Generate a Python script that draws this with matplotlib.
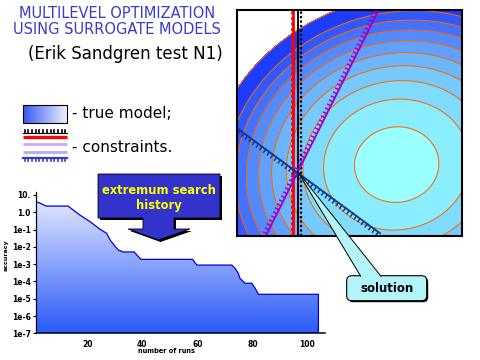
import numpy as np
import matplotlib
matplotlib.use('Agg')
import matplotlib.pyplot as plt
from matplotlib.patches import Polygon, Rectangle, FancyBboxPatch
from matplotlib.colors import LinearSegmentedColormap
from matplotlib.ticker import NullLocator
import matplotlib.patheffects as pe

# ---------------- data: extremum search history ----------------
runs = [1.2, 2.5, 5, 13, 17.3, 21, 24.6, 27, 28.3, 30, 31.3, 33.1, 37, 39.5,
        58.3, 59.8, 72.5, 73.7, 74.9, 75.5, 77.3, 79.8, 81, 82.2, 104]
accuracy = [4.07, 3.55, 2.29, 2.29, 0.69, 0.288, 0.105, 0.0617, 0.0251, 0.0112,
            0.0066, 0.0051, 0.0051, 0.0019, 0.0019, 0.00089, 0.00089, 0.00058,
            0.000295, 0.000151, 7.9e-5, 7.9e-5, 4.1e-5, 1.82e-5, 1.82e-5]
y_ticks = [1e1, 1e0, 1e-1, 1e-2, 1e-3, 1e-4, 1e-5, 1e-6, 1e-7]
y_tick_labels = ['10.', '1.0', '1e-1', '1e-2', '1e-3', '1e-4', '1e-5', '1e-6', '1e-7']
x_ticks = [20, 40, 60, 80, 100]

# ---------------- true model (contour panel) ----------------
model_center = (0.711, 0.315)
model_xscale = 1.12
model_cross = 0.20
model_levels = [0.0, 0.028, 0.084, 0.138, 0.191, 0.245, 0.299, 0.353, 0.406, 0.460, 0.560]
band_colors = ['#99ffff', '#8aeeff', '#80dcff', '#76caff', '#6cb6ff',
               '#60a0ff', '#528aff', '#4272ff', '#3058ff', '#1c3cff']
# constraints (panel coordinates 0..1)
red_x = 0.2516
black_x = 0.2738
purple_line = ([0.130, 0.627], [0.0, 0.992])
blue_line = ([-0.008, 0.637], [0.483, 0.0106])

W, H = 480, 360
fig = plt.figure(figsize=(4.8, 3.6), dpi=100)


def fa(x0, y0, x1, y1):
    return [x0 / W, 1 - y1 / H, (x1 - x0) / W, (y1 - y0) / H]


# ---------------- accuracy chart ----------------
ax = fig.add_axes(fa(35.6, 191.7, 325, 333.4))
ax.set_yscale('log')
ax.set_xlim(1.2, 106.4)
ax.set_ylim(1e-7, 10 ** 1.19)
ax.set_autoscale_on(False)
xs = np.array(runs)
ys = np.array(accuracy)
ybot = 1e-7
poly_xy = np.column_stack([np.r_[xs[0], xs, xs[-1]], np.r_[ybot, ys, ybot]])
grad = np.linspace(0, 1, 256).reshape(-1, 1)
cmap_acc = LinearSegmentedColormap.from_list('acc', ['#2a5af8', '#eef1fd'])
im = ax.imshow(grad, extent=[0, 1, 0, 1], transform=ax.transAxes, origin='lower',
               cmap=cmap_acc, aspect='auto', zorder=2, interpolation='bilinear')
clip = Polygon(poly_xy, closed=True, transform=ax.transData)
im.set_clip_path(clip)
ax.add_patch(Polygon(poly_xy, closed=True, facecolor='none', edgecolor='#0000e6',
                     lw=0.9, zorder=3))
ax.set_xlim(1.2, 106.4)
ax.set_ylim(1e-7, 10 ** 1.19)
ax.set_yticks(y_ticks)
ax.set_yticklabels(y_tick_labels)
ax.yaxis.set_minor_locator(NullLocator())
ax.set_xticks(x_ticks)
ax.set_xticklabels([str(t) for t in x_ticks])
ax.tick_params(axis='y', length=2.5, width=0.8, direction='out', pad=1, labelsize=5.5)
ax.tick_params(axis='x', length=0, pad=5, labelsize=5.5)
for lab in ax.get_yticklabels() + ax.get_xticklabels():
    lab.set_fontweight('bold')
ax.spines['top'].set_visible(False)
ax.spines['right'].set_visible(False)
ax.spines['bottom'].set_linewidth(1.1)
ax.spines['left'].set_linewidth(0.9)
ax.patch.set_alpha(0)

# ---------------- contour panel ----------------
cax = fig.add_axes(fa(236.7, 10, 461.7, 235.7))
u = np.linspace(0, 1, 500)
v = np.linspace(0, 1, 500)
U, V = np.meshgrid(u, v)
dx = U - model_center[0]
dy = V - model_center[1]
q = (dx / model_xscale) ** 2 + dy ** 2
F = q - model_cross * dx * dy * np.sqrt(q / model_levels[-1])
cax.contourf(U, V, F, levels=model_levels, colors=band_colors)
cax.contour(U, V, F, levels=model_levels[1:], colors='#ff6a00', linewidths=0.75)
cax.plot([red_x, red_x], [0, 1], color='#ff0000', lw=2.0, solid_capstyle='butt')
cax.plot([red_x - 0.004, red_x - 0.004], [0, 1], color='#ff0000', lw=2.0, ls=(0, (1, 1)))
cax.plot([black_x, black_x], [0, 1], color='black', lw=1.4, solid_capstyle='butt')
cax.plot([black_x + 0.010, black_x + 0.010], [0, 1], color='black', lw=1.6, ls=(0, (1, 1)))
cax.plot(*purple_line, color='#a000c8', lw=1.3,
         path_effects=[pe.withTickedStroke(angle=90, spacing=3.2, length=0.8, linewidth=1.1)])
cax.plot(*blue_line, color='#0b3a8c', lw=1.3,
         path_effects=[pe.withTickedStroke(angle=-90, spacing=3.2, length=0.8, linewidth=1.1)])
cax.set_xlim(0, 1)
cax.set_ylim(0, 1)
cax.set_xticks([])
cax.set_yticks([])
cax.set_facecolor('white')
for s in cax.spines.values():
    s.set_linewidth(1.5)
    s.set_color('black')

# ---------------- slide decorations ----------------
deco = fig.add_axes([0, 0, 1, 1])
deco.patch.set_alpha(0)

title_color = '#3a3ad0'
deco.text(117, 14, 'MULTILEVEL OPTIMIZATION', ha='center', va='center',
          fontsize=10.5, color=title_color)
deco.text(117, 30, 'USING SURROGATE MODELS', ha='center', va='center',
          fontsize=10.5, color=title_color)
deco.text(125, 54, '(Erik Sandgren test N1)', ha='center', va='center',
          fontsize=12, color='black')

# legend: true model swatch
sw = np.linspace(0, 1, 256).reshape(1, -1)
deco.imshow(sw, extent=(23, 67, 123, 105), aspect='auto',
            cmap=LinearSegmentedColormap.from_list('sw', ['#3458f6', '#eef1fd']), zorder=2)
deco.add_patch(Rectangle((23, 105), 44, 18, fill=False, ec='black', lw=0.8, zorder=3))
deco.text(72, 114, '- true model;', ha='left', va='center', fontsize=11)

# legend: constraints icon
deco.plot([23, 67], [133, 133], color='black', lw=0.8,
          path_effects=[pe.withTickedStroke(angle=90, spacing=2.6, length=0.9, linewidth=1.2)])
deco.plot([23, 67], [137, 137], color='#ff0000', lw=2.4, solid_capstyle='butt')
deco.plot([23, 67], [143.5, 143.5], color='#d6a2fa', lw=2.0, solid_capstyle='butt')
deco.plot([23, 67], [151.5, 151.5], color='#b8aaf6', lw=2.0, solid_capstyle='butt')
deco.plot([23, 67], [158, 158], color='#3a3ac8', lw=1.6,
          path_effects=[pe.withTickedStroke(angle=-90, spacing=2.6, length=0.9, linewidth=1.2)])
deco.text(72, 147, '- constraints.', ha='left', va='center', fontsize=11)

# callout "extremum search history"
callout = [(98, 174), (220, 174), (220, 218), (174, 218), (174, 229), (190, 229),
           (158.5, 240), (128, 229), (143, 229), (143, 218), (98, 218)]
shadow = [(x + 2, y + 2) for x, y in callout]
deco.add_patch(Polygon(shadow, closed=True, fc='black', ec='none', zorder=4))
deco.add_patch(Polygon(callout, closed=True, fc='#3333cc', ec='black', lw=0.6, zorder=5))
deco.text(159, 190, 'extremum search', ha='center', va='center', fontsize=8.3,
          fontweight='bold', color='#ffff00', zorder=6)
deco.text(159, 205.5, 'history', ha='center', va='center', fontsize=8.3,
          fontweight='bold', color='#ffff00', zorder=6)

# callout "solution"
sol_color = '#b2f4f8'
deco.add_patch(FancyBboxPatch((348.2, 277.2), 80, 25, boxstyle='round,pad=0,rounding_size=5',
                              fc='black', ec='none', zorder=4))
deco.add_patch(FancyBboxPatch((346.7, 275.7), 80, 25, boxstyle='round,pad=0,rounding_size=5',
                              fc=sol_color, ec='black', lw=0.8, zorder=5))
deco.add_patch(Polygon([(298, 172), (360.7, 277), (381, 277)], closed=True,
                       fc=sol_color, ec='none', zorder=6))
deco.plot([298, 360.7], [172, 276.2], color='black', lw=0.7, zorder=7)
deco.plot([298, 381], [172, 276.2], color='black', lw=0.7, zorder=7)
deco.text(387, 288.5, 'solution', ha='center', va='center', fontsize=8.5,
          fontweight='bold', color='black', zorder=8)

# axis labels of the history chart
deco.text(166, 351, 'number of runs', ha='center', va='center', fontsize=4.8,
          fontweight='bold')
deco.text(6.5, 255, 'accuracy', ha='center', va='center', fontsize=4.6, rotation=90,
          fontweight='bold')

deco.set_xlim(0, W)
deco.set_ylim(H, 0)
deco.axis('off')

fig.savefig('out.png', dpi=100)
